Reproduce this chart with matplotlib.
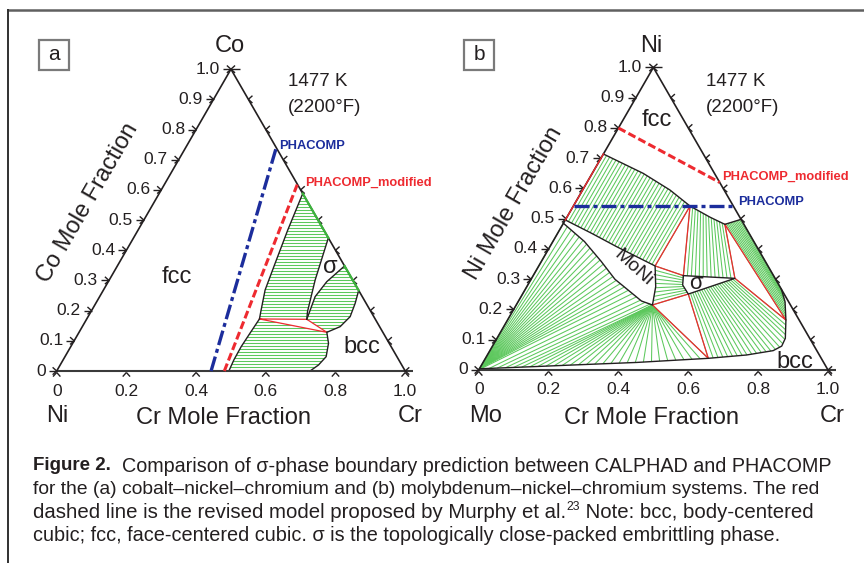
import numpy as np
import matplotlib
matplotlib.use("Agg")
import matplotlib.pyplot as plt
from matplotlib.patches import Polygon, Rectangle
from matplotlib.lines import Line2D
from matplotlib.collections import LineCollection

plt.rcParams['font.family'] = ['Liberation Sans', 'DejaVu Sans']

W, H = 864, 563
S3 = np.sqrt(3) / 2
INK = '#231f20'
GREEN = '#5cc85c'
RED = '#ee2a30'
BLUE = '#1c2d9c'

# ---------------- panel a : Co-Ni-Cr, values are (Cr, Co) mole fractions ----------------
a_phacomp_cr = [0.443, 0.260]
a_phacomp_co = [0.0, 0.740]
a_modified_cr = [0.481, 0.381]
a_modified_co = [0.0, 0.620]

a_fcc_up_cr = [0.412, 0.4294, 0.4483, 0.4638, 0.4873, 0.4956]
a_fcc_up_co = [0.588, 0.4675, 0.357, 0.2685, 0.1967, 0.1724]
a_fcc_lo_cr = [0.4956, 0.492, 0.489, 0.490, 0.494]
a_fcc_lo_co = [0.1724, 0.125, 0.080, 0.037, 0.0]
a_sig_left_cr = [0.559, 0.5908, 0.6213, 0.632]
a_sig_left_co = [0.441, 0.3017, 0.1967, 0.1713]
a_sig_right_cr = [0.632, 0.6184, 0.627, 0.652]
a_sig_right_co = [0.1713, 0.2464, 0.2961, 0.348]
a_bcc_up_cr = [0.733, 0.7443, 0.752, 0.7399, 0.711]
a_bcc_up_co = [0.267, 0.2243, 0.1801, 0.147, 0.1282]
a_bcc_lo_cr = [0.711, 0.7341, 0.7494, 0.7413, 0.727]
a_bcc_lo_co = [0.1282, 0.0917, 0.0475, 0.0199, 0.0]
a_tri_cr = [0.4956, 0.632, 0.711]
a_tri_co = [0.1724, 0.1713, 0.1282]

# ---------------- panel b : Mo-Ni-Cr, values are (Cr, Ni) mole fractions ----------------
b_phacomp_cr = [0.0, 0.457]
b_phacomp_ni = [0.543, 0.543]
b_modified_cr = [0.0, 0.380]
b_modified_ni = [0.800, 0.620]

b_fcc_cr = [0.0, 0.146, 0.250, 0.334, 0.410, 0.464, 0.502]
b_fcc_ni = [0.714, 0.650, 0.595, 0.542, 0.505, 0.4815, 0.498]
b_moni_up_cr = [0.0, 0.0975, 0.191, 0.333]
b_moni_up_ni = [0.496, 0.4518, 0.4077, 0.344]
b_moni_right_cr = [0.333, 0.369, 0.390]
b_moni_right_ni = [0.344, 0.2755, 0.215]
b_moni_lo_cr = [0.0, 0.09, 0.17, 0.24, 0.31, 0.352, 0.390]
b_moni_lo_ni = [0.485, 0.425, 0.360, 0.300, 0.255, 0.228, 0.215]
b_sig_cr = [0.430, 0.582, 0.4745, 0.4434, 0.430]
b_sig_ni = [0.312, 0.303, 0.251, 0.281, 0.312]
b_bcc_cr = [0.0, 0.15, 0.25, 0.44, 0.638, 0.742, 0.811, 0.828, 0.8255, 0.797, 0.764, 0.733]
b_bcc_ni = [0.004, 0.011, 0.016, 0.025, 0.0386, 0.0496, 0.064, 0.079, 0.1047, 0.165, 0.226, 0.267]
b_tri1_cr = [0.334, 0.333, 0.430]
b_tri1_ni = [0.542, 0.344, 0.312]
b_tri2_cr = [0.390, 0.4745, 0.638]
b_tri2_ni = [0.215, 0.251, 0.0386]
b_tri3_cr = [0.464, 0.582, 0.797]
b_tri3_ni = [0.4815, 0.303, 0.165]
b_edge_red_ni = [0.496, 0.714]

left_ticks = [0.0, 0.1, 0.2, 0.3, 0.4, 0.5, 0.6, 0.7, 0.8, 0.9, 1.0]
left_labels = ['0', '0.1', '0.2', '0.3', '0.4', '0.5', '0.6', '0.7', '0.8', '0.9', '1.0']
bottom_ticks = [0.0, 0.2, 0.4, 0.6, 0.8, 1.0]
bottom_labels = ['0', '0.2', '0.4', '0.6', '0.8', '1.0']


def cart(r, t):
    r = np.asarray(r, float)
    t = np.asarray(t, float)
    return r + t / 2, t * S3


def along(r, t, u):
    x, y = cart(r, t)
    d = np.r_[0, np.cumsum(np.hypot(np.diff(x), np.diff(y)))]
    d = d / d[-1]
    return np.interp(u, d, x), np.interp(u, d, y)


def ties(ax, A, B, n, ua=None, ub=None):
    u = np.linspace(0, 1, n)
    ua = u if ua is None else ua
    ub = u if ub is None else ub
    xa, ya = along(A[0], A[1], ua)
    xb, yb = along(B[0], B[1], ub)
    segs = np.stack([np.c_[xa, ya], np.c_[xb, yb]], axis=1)
    ax.add_collection(LineCollection(segs, colors=GREEN, lw=0.75, zorder=2))


fig = plt.figure(figsize=(W / 100, H / 100), dpi=100)
fig.patch.set_facecolor('white')


def fpos(px, py):
    return px / W, 1 - py / H


def panel(ox, oy, s, box):
    l, t, r, b = box
    ax = fig.add_axes([l / W, 1 - b / H, (r - l) / W, (b - t) / H])
    ax.set_xlim((l - ox) / s, (r - ox) / s)
    ax.set_ylim((oy - b) / s, (oy - t) / s)
    ax.axis('off')
    return ax


def frame(ax, s):
    px = 1.0 / s
    ax.plot([-0.0, 1 + 8 * px], [0, 0], color='#3a3a3a', lw=1.5, zorder=5, solid_capstyle='butt')
    ax.plot([0, 0.5, 1], [0, S3, 0], color=INK, lw=1.2, zorder=5)
    arm = 5.5 * px
    segs = []

    def chevron(x, y, ang):
        for d in (-42, 42):
            a = np.radians(ang + d)
            segs.append([(x, y), (x + arm * np.cos(a), y + arm * np.sin(a))])

    for v, lab in zip(left_ticks, left_labels):
        x, y = cart(0, v)
        chevron(x, y, 180)
        segs.append([(x, y), (x - 8 * px, y)])
        ax.text(x - 11 * px, y, lab, ha='right', va='center', fontsize=12.5, color=INK)
    for v in left_ticks:
        x, y = cart(1 - v, v)
        chevron(x, y, 0)
    x, y = cart(0, 1)
    segs.append([(x, y), (x + 9 * px, y)])
    for v, lab in zip(bottom_ticks, bottom_labels):
        x, y = cart(v, 0)
        chevron(x, y - 1.5 * px, 270)
        ax.text(x, y - 20 * px, lab, ha='center', va='center', fontsize=12.5, color=INK)
    ax.add_collection(LineCollection(segs, colors=INK, lw=1.0, zorder=5))


def clipped_hatch(ax, r, t, step):
    x, y = cart(r, t)
    poly = Polygon(np.c_[x, y], closed=True, fc='none', ec='none')
    ax.add_patch(poly)
    ys = np.arange(step / 2, 0.6, step)
    lc = ax.hlines(ys, -0.1, 1.1, colors=GREEN, lw=0.75, zorder=2)
    lc.set_clip_path(poly)


# ---------------- panel a ----------------
sa = 348.5
axa = panel(56.7, 371, sa, (10, 12, 432, 440))
step = 3.0 / sa
clipped_hatch(axa, a_fcc_up_cr + a_sig_left_cr[::-1], a_fcc_up_co + a_sig_left_co[::-1], step)
clipped_hatch(axa, a_sig_right_cr + a_bcc_up_cr, a_sig_right_co + a_bcc_up_co, step)
clipped_hatch(axa, a_fcc_lo_cr + a_bcc_lo_cr[::-1], a_fcc_lo_co + a_bcc_lo_co[::-1], step)

axa.plot(*cart(a_tri_cr + a_tri_cr[:1], a_tri_co + a_tri_co[:1]), color=RED, lw=0.9, zorder=3)
for r, t in [(a_fcc_up_cr + a_fcc_lo_cr, a_fcc_up_co + a_fcc_lo_co),
             (a_sig_left_cr, a_sig_left_co), (a_sig_right_cr, a_sig_right_co),
             (a_bcc_up_cr + a_bcc_lo_cr, a_bcc_up_co + a_bcc_lo_co)]:
    axa.plot(*cart(r, t), color=INK, lw=1.0, zorder=4)
frame(axa, sa)
axa.plot(*cart([a_fcc_up_cr[0], a_sig_left_cr[0]], [a_fcc_up_co[0], a_sig_left_co[0]]),
         color='#3cb43c', lw=1.6, zorder=6)
axa.plot(*cart([a_sig_right_cr[-1], a_bcc_up_cr[0]], [a_sig_right_co[-1], a_bcc_up_co[0]]),
         color='#3cb43c', lw=1.6, zorder=6)
axa.plot(*cart(a_phacomp_cr, a_phacomp_co), color=BLUE, lw=2.4, dashes=(4.5, 1.2, 1.2, 1.2), zorder=7)
axa.plot(*cart(a_modified_cr, a_modified_co), color=RED, lw=2.2, dashes=(2.6, 1.1), zorder=7)

# ---------------- panel b ----------------
sb = 349.3
axb = panel(478.7, 370, sb, (434, 12, 862, 440))
ties(axb, (b_fcc_cr[:4], b_fcc_ni[:4]), (b_moni_up_cr, b_moni_up_ni), 30)
ties(axb, (b_fcc_cr[3:6], b_fcc_ni[3:6]), (b_sig_cr[:2], b_sig_ni[:2]), 14)
ties(axb, (b_fcc_cr[5:], b_fcc_ni[5:]), (b_bcc_cr[9:], b_bcc_ni[9:]), 12)
ties(axb, (b_moni_right_cr, b_moni_right_ni), (b_sig_cr[::-1][:3], b_sig_ni[::-1][:3]), 10)
ties(axb, (b_sig_cr[2:0:-1], b_sig_ni[2:0:-1]), (b_bcc_cr[4:10], b_bcc_ni[4:10]), 22)
u = np.linspace(0, 1, 48)
ties(axb, (b_moni_lo_cr, b_moni_lo_ni), (b_bcc_cr[:5], b_bcc_ni[:5]), 48,
     ua=np.clip(u / 0.5, 0, 1), ub=np.clip((u - 0.4) / 0.6, 0, 1))

for r, t in [(b_tri1_cr, b_tri1_ni), (b_tri2_cr, b_tri2_ni), (b_tri3_cr, b_tri3_ni)]:
    axb.plot(*cart(r + r[:1], t + t[:1]), color=RED, lw=0.9, zorder=3)
for r, t in [(b_fcc_cr, b_fcc_ni), (b_sig_cr, b_sig_ni), (b_bcc_cr, b_bcc_ni),
             (b_moni_up_cr + b_moni_right_cr + b_moni_lo_cr[::-1],
              b_moni_up_ni + b_moni_right_ni + b_moni_lo_ni[::-1])]:
    axb.plot(*cart(r, t), color=INK, lw=1.0, zorder=4)
frame(axb, sb)
axb.plot(*cart([0, 0], b_edge_red_ni), color=RED, lw=1.0, zorder=6)
axb.plot(*cart(b_phacomp_cr, b_phacomp_ni), color=BLUE, lw=2.4, dashes=(4.5, 1.2, 1.2, 1.2), zorder=7)
axb.plot(*cart(b_modified_cr, b_modified_ni), color=RED, lw=2.2, dashes=(2.6, 1.1), zorder=7)

# ---------------- labels ----------------
def ft(px, py, s, **kw):
    kw.setdefault('color', INK)
    kw.setdefault('ha', 'center')
    kw.setdefault('va', 'center')
    fig.text(*fpos(px, py), s, **kw)

for dx, top, left, right, vert in [(0, 'Co', 'Ni', 'Cr', 'Co Mole Fraction'),
                                   (422, 'Ni', 'Mo', 'Cr', 'Ni Mole Fraction')]:
    ft(229.5 + dx, 46, top, fontsize=17)
    ft(57 + dx + (7 if left == 'Mo' else 0), 416, left, fontsize=17)
    ft(410 + dx, 416, right, fontsize=17)
    ft(224 + dx + 6 * (dx > 0), 418, 'Cr Mole Fraction', fontsize=17)
    ft(88 + dx + 4 * (dx > 0), 203, vert, fontsize=17, rotation=60)
    ft(288 + dx - 4 * (dx > 0), 82, '1477 K', fontsize=13.5, ha='left')
    ft(288 + dx - 4 * (dx > 0), 107, '(2200°F)', fontsize=13.5, ha='left')

ft(176.7, 277, 'fcc', fontsize=17)
ft(361.7, 347, 'bcc', fontsize=17)
ft(330, 267, 'σ', fontsize=17)
ft(279.5, 146, 'PHACOMP', fontsize=9.3, fontweight='bold', color=BLUE, ha='left')
ft(305.5, 182.5, 'PHACOMP_modified', fontsize=9.3, fontweight='bold', color=RED, ha='left')

ft(657, 120, 'fcc', fontsize=17)
ft(795.3, 362, 'bcc', fontsize=17)
ft(695.5, 283.5, 'σ', fontsize=16)
ft(633, 268, 'MoNi', fontsize=14, rotation=-42)
ft(722, 177, 'PHACOMP_modified', fontsize=9.3, fontweight='bold', color=RED, ha='left')
ft(738, 202, 'PHACOMP', fontsize=9.3, fontweight='bold', color=BLUE, ha='left')

for x0, lab in [(39.3, 'a'), (464.3, 'b')]:
    fig.add_artist(Rectangle(fpos(x0, 70), 30 / W, 30 / H, transform=fig.transFigure,
                             fill=False, ec='#7a7a7a', lw=1.6))
    ft(x0 + 15, 54.5, lab, fontsize=15)

# outer frame
fig.add_artist(Line2D([8 / W, 1], [1 - 10 / H] * 2, transform=fig.transFigure, color='#606060', lw=1.8))
fig.add_artist(Line2D([8 / W] * 2, [1 - 10 / H, 0], transform=fig.transFigure, color='#303030', lw=1.4))

# ---------------- caption ----------------
renderer = fig.canvas.get_renderer()
cap = [
    [('Figure 2.', 'bold'), ('  Comparison of σ-phase boundary prediction between CALPHAD and PHACOMP', 'normal')],
    [('for the (a) cobalt–nickel–chromium and (b) molybdenum–nickel–chromium systems. The red', 'normal')],
    [('dashed line is the revised model proposed by Murphy et al.', 'normal'), ('23', 'sup'),
     (' Note: bcc, body-centered', 'normal')],
    [('cubic; fcc, face-centered cubic. σ is the topologically close-packed embrittling phase.', 'normal')],
]
cap_sizes = [14.25, 13.9, 14.7, 14.35]
for i, line in enumerate(cap):
    x = 33.0
    py = 466 + 23.2 * i
    size = cap_sizes[i]
    for s, style in line:
        if style == 'sup':
            t = fig.text(*fpos(x, py - 5), s, fontsize=size * 0.6, va='center', color=INK)
        elif style == 'bold':
            t = fig.text(*fpos(x, py), s, fontsize=13.5, fontweight='bold', va='center', color=INK)
        else:
            t = fig.text(*fpos(x, py), s, fontsize=size, va='center', color=INK)
        x += t.get_window_extent(renderer).width

fig.savefig('out.png', dpi=100, facecolor='white')
